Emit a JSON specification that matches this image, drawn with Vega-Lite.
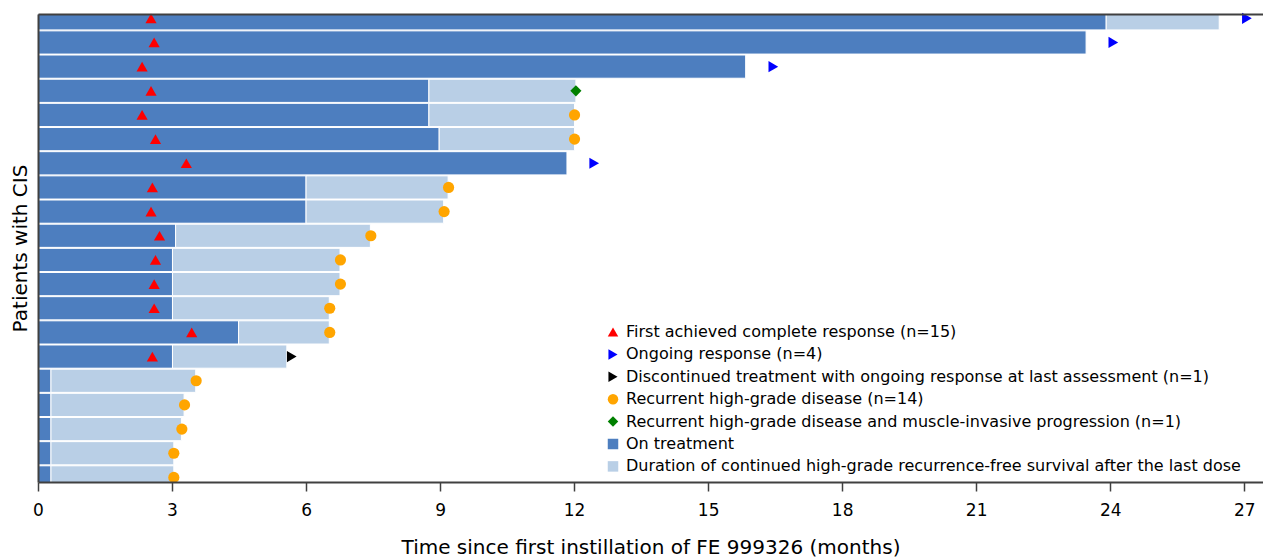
{
  "$schema": "https://vega.github.io/schema/vega-lite/v6.json",
  "width": 1225,
  "height": 468,
  "autosize": "none",
  "padding": {"left": 38, "top": 14, "right": 0, "bottom": 76},
  "background": "white",
  "config": {
    "view": {"stroke": null},
    "font": "DejaVu Sans",
    "axis": {"grid": false, "domainColor": "#404040", "domainWidth": 2, "tickColor": "#404040", "tickWidth": 1.5, "labelColor": "black", "titleColor": "black", "titleFontWeight": "normal", "zindex": 2}
  },
  "datasets": {
    "bars": [
      {"pid": 1, "start": 0, "end": 23.91, "type": "On treatment"},
      {"pid": 1, "start": 23.91, "end": 26.44, "type": "Duration of continued high-grade recurrence-free survival after the last dose"},
      {"pid": 2, "start": 0, "end": 23.46, "type": "On treatment"},
      {"pid": 3, "start": 0, "end": 15.84, "type": "On treatment"},
      {"pid": 4, "start": 0, "end": 8.75, "type": "On treatment"},
      {"pid": 4, "start": 8.75, "end": 12.04, "type": "Duration of continued high-grade recurrence-free survival after the last dose"},
      {"pid": 5, "start": 0, "end": 8.75, "type": "On treatment"},
      {"pid": 5, "start": 8.75, "end": 12.01, "type": "Duration of continued high-grade recurrence-free survival after the last dose"},
      {"pid": 6, "start": 0, "end": 8.98, "type": "On treatment"},
      {"pid": 6, "start": 8.98, "end": 12.01, "type": "Duration of continued high-grade recurrence-free survival after the last dose"},
      {"pid": 7, "start": 0, "end": 11.84, "type": "On treatment"},
      {"pid": 8, "start": 0, "end": 6.0, "type": "On treatment"},
      {"pid": 8, "start": 6.0, "end": 9.18, "type": "Duration of continued high-grade recurrence-free survival after the last dose"},
      {"pid": 9, "start": 0, "end": 6.0, "type": "On treatment"},
      {"pid": 9, "start": 6.0, "end": 9.08, "type": "Duration of continued high-grade recurrence-free survival after the last dose"},
      {"pid": 10, "start": 0, "end": 3.08, "type": "On treatment"},
      {"pid": 10, "start": 3.08, "end": 7.44, "type": "Duration of continued high-grade recurrence-free survival after the last dose"},
      {"pid": 11, "start": 0, "end": 3.01, "type": "On treatment"},
      {"pid": 11, "start": 3.01, "end": 6.76, "type": "Duration of continued high-grade recurrence-free survival after the last dose"},
      {"pid": 12, "start": 0, "end": 3.01, "type": "On treatment"},
      {"pid": 12, "start": 3.01, "end": 6.76, "type": "Duration of continued high-grade recurrence-free survival after the last dose"},
      {"pid": 13, "start": 0, "end": 3.01, "type": "On treatment"},
      {"pid": 13, "start": 3.01, "end": 6.52, "type": "Duration of continued high-grade recurrence-free survival after the last dose"},
      {"pid": 14, "start": 0, "end": 4.49, "type": "On treatment"},
      {"pid": 14, "start": 4.49, "end": 6.52, "type": "Duration of continued high-grade recurrence-free survival after the last dose"},
      {"pid": 15, "start": 0, "end": 3.01, "type": "On treatment"},
      {"pid": 15, "start": 3.01, "end": 5.57, "type": "Duration of continued high-grade recurrence-free survival after the last dose"},
      {"pid": 16, "start": 0, "end": 0.29, "type": "On treatment"},
      {"pid": 16, "start": 0.29, "end": 3.53, "type": "Duration of continued high-grade recurrence-free survival after the last dose"},
      {"pid": 17, "start": 0, "end": 0.29, "type": "On treatment"},
      {"pid": 17, "start": 0.29, "end": 3.27, "type": "Duration of continued high-grade recurrence-free survival after the last dose"},
      {"pid": 18, "start": 0, "end": 0.29, "type": "On treatment"},
      {"pid": 18, "start": 0.29, "end": 3.21, "type": "Duration of continued high-grade recurrence-free survival after the last dose"},
      {"pid": 19, "start": 0, "end": 0.29, "type": "On treatment"},
      {"pid": 19, "start": 0.29, "end": 3.04, "type": "Duration of continued high-grade recurrence-free survival after the last dose"},
      {"pid": 20, "start": 0, "end": 0.29, "type": "On treatment"},
      {"pid": 20, "start": 0.29, "end": 3.04, "type": "Duration of continued high-grade recurrence-free survival after the last dose"}
    ],
    "events": [
      {"pid": 1, "time": 2.53, "type": "First achieved complete response (n=15)"},
      {"pid": 2, "time": 2.60, "type": "First achieved complete response (n=15)"},
      {"pid": 3, "time": 2.33, "type": "First achieved complete response (n=15)"},
      {"pid": 4, "time": 2.53, "type": "First achieved complete response (n=15)"},
      {"pid": 5, "time": 2.33, "type": "First achieved complete response (n=15)"},
      {"pid": 6, "time": 2.63, "type": "First achieved complete response (n=15)"},
      {"pid": 7, "time": 3.32, "type": "First achieved complete response (n=15)"},
      {"pid": 8, "time": 2.56, "type": "First achieved complete response (n=15)"},
      {"pid": 9, "time": 2.53, "type": "First achieved complete response (n=15)"},
      {"pid": 10, "time": 2.72, "type": "First achieved complete response (n=15)"},
      {"pid": 11, "time": 2.63, "type": "First achieved complete response (n=15)"},
      {"pid": 12, "time": 2.60, "type": "First achieved complete response (n=15)"},
      {"pid": 13, "time": 2.60, "type": "First achieved complete response (n=15)"},
      {"pid": 14, "time": 3.44, "type": "First achieved complete response (n=15)"},
      {"pid": 15, "time": 2.56, "type": "First achieved complete response (n=15)"},
      {"pid": 1, "time": 27.06, "type": "Ongoing response (n=4)"},
      {"pid": 2, "time": 24.07, "type": "Ongoing response (n=4)"},
      {"pid": 3, "time": 16.46, "type": "Ongoing response (n=4)"},
      {"pid": 7, "time": 12.45, "type": "Ongoing response (n=4)"},
      {"pid": 15, "time": 5.68, "type": "Discontinued treatment with ongoing response at last assessment (n=1)"},
      {"pid": 4, "time": 12.04, "type": "Recurrent high-grade disease and muscle-invasive progression (n=1)"},
      {"pid": 5, "time": 12.01, "type": "Recurrent high-grade disease (n=14)"},
      {"pid": 6, "time": 12.01, "type": "Recurrent high-grade disease (n=14)"},
      {"pid": 8, "time": 9.19, "type": "Recurrent high-grade disease (n=14)"},
      {"pid": 9, "time": 9.09, "type": "Recurrent high-grade disease (n=14)"},
      {"pid": 10, "time": 7.45, "type": "Recurrent high-grade disease (n=14)"},
      {"pid": 11, "time": 6.77, "type": "Recurrent high-grade disease (n=14)"},
      {"pid": 12, "time": 6.77, "type": "Recurrent high-grade disease (n=14)"},
      {"pid": 13, "time": 6.53, "type": "Recurrent high-grade disease (n=14)"},
      {"pid": 14, "time": 6.53, "type": "Recurrent high-grade disease (n=14)"},
      {"pid": 16, "time": 3.54, "type": "Recurrent high-grade disease (n=14)"},
      {"pid": 17, "time": 3.28, "type": "Recurrent high-grade disease (n=14)"},
      {"pid": 18, "time": 3.22, "type": "Recurrent high-grade disease (n=14)"},
      {"pid": 19, "time": 3.04, "type": "Recurrent high-grade disease (n=14)"},
      {"pid": 20, "time": 3.04, "type": "Recurrent high-grade disease (n=14)"}
    ]
  },
  "layer": [
    {
      "data": {"name": "bars"},
      "mark": {"type": "bar", "clip": true, "height": 23.2, "stroke": "white", "strokeWidth": 1},
      "encoding": {
        "x": {"field": "start", "type": "quantitative",
          "scale": {"domain": [0, 27.42], "nice": false, "zero": false, "padding": 0},
          "axis": {"orient": "bottom", "zindex": 3, "values": [0, 3, 6, 9, 12, 15, 18, 21, 24, 27], "tickSize": 9, "labelFontSize": 17, "labelPadding": 11, "labelFlush": false, "title": "Time since first instillation of FE 999326 (months)", "titleFontSize": 20, "titlePadding": 19}},
        "x2": {"field": "end"},
        "y": {"field": "pid", "type": "quantitative",
          "scale": {"domain": [0.822, 20.19], "reverse": true, "nice": false, "zero": false, "padding": 0},
          "axis": {"orient": "left", "zindex": 3, "labels": false, "ticks": false, "domain": true, "title": "Patients with CIS", "titleFontSize": 20, "titlePadding": 8}},
        "color": {"field": "type", "type": "nominal",
          "scale": {
            "domain": ["First achieved complete response (n=15)", "Ongoing response (n=4)", "Discontinued treatment with ongoing response at last assessment (n=1)", "Recurrent high-grade disease (n=14)", "Recurrent high-grade disease and muscle-invasive progression (n=1)", "On treatment", "Duration of continued high-grade recurrence-free survival after the last dose"],
            "range": ["#ff0000", "#0000ff", "#000000", "#ffa500", "#008000", "#4d7ebf", "#b9cfe6"]},
          "legend": {"orient": "none", "legendX": 567, "legendY": 310, "title": null, "labelFontSize": 16, "labelColor": "black", "symbolSize": 110, "rowPadding": 6.4, "labelOffset": 5, "padding": 0, "labelLimit": 1000, "symbolStrokeWidth": 0}}
      }
    },
    {
      "data": {"name": "events"},
      "mark": {"type": "point", "filled": true, "size": 125, "opacity": 1},
      "encoding": {
        "x": {"field": "time", "type": "quantitative",
          "axis": {"orient": "top", "zindex": 3, "labels": false, "ticks": false, "title": null, "domain": true}},
        "y": {"field": "pid", "type": "quantitative",
          "axis": {"orient": "left", "zindex": 3, "labels": false, "ticks": false, "domain": true, "title": "Patients with CIS", "titleFontSize": 20, "titlePadding": 8}},
        "color": {"field": "type", "type": "nominal",
          "legend": {"orient": "none", "legendX": 567, "legendY": 310, "title": null, "labelFontSize": 16, "labelColor": "black", "symbolSize": 110, "rowPadding": 6.4, "labelOffset": 5, "padding": 0, "labelLimit": 1000, "symbolStrokeWidth": 0}},
        "shape": {"field": "type", "type": "nominal",
          "scale": {
            "domain": ["First achieved complete response (n=15)", "Ongoing response (n=4)", "Discontinued treatment with ongoing response at last assessment (n=1)", "Recurrent high-grade disease (n=14)", "Recurrent high-grade disease and muscle-invasive progression (n=1)", "On treatment", "Duration of continued high-grade recurrence-free survival after the last dose"],
            "range": ["triangle-up", "triangle-right", "triangle-right", "circle", "diamond", "square", "square"]},
          "legend": {"orient": "none", "legendX": 567, "legendY": 310, "title": null, "labelFontSize": 16, "labelColor": "black", "symbolSize": 110, "rowPadding": 6.4, "labelOffset": 5, "padding": 0, "labelLimit": 1000, "symbolStrokeWidth": 0}}
      }
    }
  ]
}
